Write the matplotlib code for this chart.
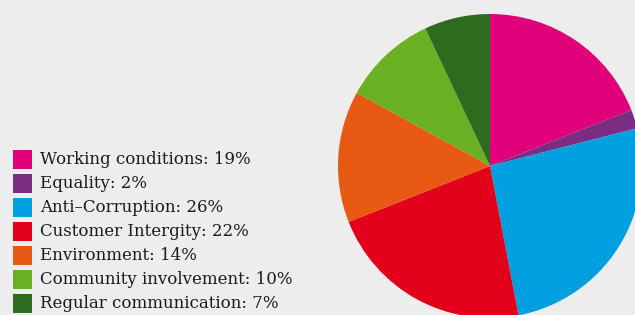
import matplotlib
matplotlib.use('Agg')
import matplotlib.pyplot as plt
from matplotlib.patches import Rectangle

labels = ['Working conditions', 'Equality', 'Anti-Corruption', 'Customer Intergity',
          'Environment', 'Community involvement', 'Regular communication']
values = [19, 2, 26, 22, 14, 10, 7]
colors = ['#e2007a', '#7b2c83', '#009fe0', '#e2001a', '#e85a13', '#6ab023', '#2e6b1f']

W, H = 635, 315
bg = '#ecedec'

fig = plt.figure(figsize=(W / 100, H / 100), dpi=100, facecolor=bg)

# pie axes: centre (490,166) px, radius 152 px
cx, cy, r = 490, 166, 152
ax = fig.add_axes([(cx - r) / W, (H - cy - r) / H, 2 * r / W, 2 * r / H])
ax.pie(values, colors=colors, startangle=90, counterclock=False,
       wedgeprops=dict(linewidth=0))
ax.set_xlim(-1, 1)
ax.set_ylim(-1, 1)
ax.set_aspect('auto')
ax.axis('off')

# legend drawn by hand
for i, (lab, val, col) in enumerate(zip(labels, values, colors)):
    yc = 159 + 24.1 * i
    fig.patches.append(Rectangle((13 / W, 1 - (yc + 9.5) / H), 19 / W, 19 / H,
                                 transform=fig.transFigure, facecolor=col, edgecolor='none'))
    fig.text(40 / W, 1 - yc / H, f'{lab.replace("-", "–")}: {val}%', va='center', ha='left',
             fontsize=12, family='DejaVu Serif', color='#1a1a1a')

fig.savefig('out.png', dpi=100, facecolor=bg)
